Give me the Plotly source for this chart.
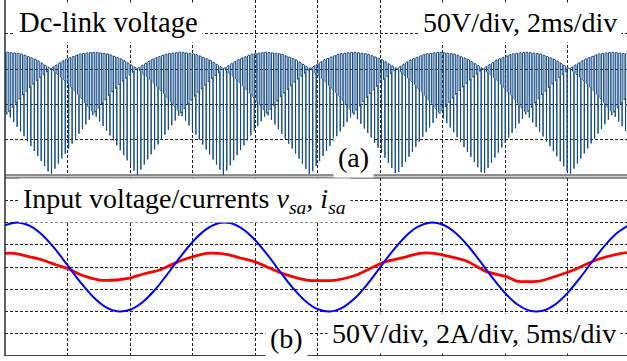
import numpy as np
import plotly.graph_objects as go

# ---------------- Top panel: DC-link voltage (V), 2 ms/div, 50 V/div ----------------
# Envelope samples, one every 10 electrical degrees,
# starting at a commutation cusp.
env_t_start = -1.308   # ms
env_t_step = 0.4613    # ms
vdc_upper = [150.7, 163.5, 171.4, 174.0, 171.4, 163.5,
             150.7, 163.5, 171.4, 174.0, 171.4, 163.5,
             150.7, 163.5, 171.4, 174.0, 171.4, 163.5,
             150.7, 163.5, 171.4, 174.0, 171.4, 163.5,
             150.7, 163.5, 171.4, 174.0, 171.4, 163.5,
             150.7, 163.5, 171.4, 174.0, 171.4, 163.5,
             150.7, 163.5, 171.4, 174.0, 171.4, 163.5,
             150.7, 163.5, 171.4, 174.0, 171.4, 163.5,
             150.7]
vdc_middle = [150.7, 133.3, 111.9, 87.0, 111.9, 133.3,
              150.7, 133.3, 111.9, 87.0, 111.9, 133.3,
              150.7, 133.3, 111.9, 87.0, 111.9, 133.3,
              150.7, 133.3, 111.9, 87.0, 111.9, 133.3,
              150.7, 133.3, 111.9, 87.0, 111.9, 133.3,
              150.7, 133.3, 111.9, 87.0, 111.9, 133.3,
              150.7, 133.3, 111.9, 87.0, 111.9, 133.3,
              150.7, 133.3, 111.9, 87.0, 111.9, 133.3,
              150.7]
vdc_lower = [0.0, 30.2, 59.5, 87.0, 59.5, 30.2,
             0.0, 30.2, 59.5, 87.0, 59.5, 30.2,
             0.0, 30.2, 59.5, 87.0, 59.5, 30.2,
             0.0, 30.2, 59.5, 87.0, 59.5, 30.2,
             0.0, 30.2, 59.5, 87.0, 59.5, 30.2,
             0.0, 30.2, 59.5, 87.0, 59.5, 30.2,
             0.0, 30.2, 59.5, 87.0, 59.5, 30.2,
             0.0, 30.2, 59.5, 87.0, 59.5, 30.2,
             0.0]
sw_period = 0.11  # ms, switching period of the chopped dc-link voltage

# ---------------- Bottom panel: vsa (V) and isa (A), 5 ms/div ----------------
vs_t = list(range(0, 51))  # ms
vs_sa = [93.6, 100.0, 92.3, 71.5, 40.6, 4.0, -33.1, -65.6, -88.8, -99.5,
         -96.1, -79.2, -51.1, -15.7, 21.8, 56.3, 82.9, 97.7, 98.7, 85.8,
         60.8, 27.2, -10.3, -46.3, -75.7, -94.5, -99.9, -91.2, -69.7, -38.2,
         -1.4, 35.6, 67.6, 90.0, 99.7, 95.4, 77.6, 48.8, 13.1, -24.4,
         -58.5, -84.3, -98.2, -98.2, -84.4, -58.6, -24.6, 12.9, 48.6, 77.4,
         95.3]
is_t = [0.0, 0.76, 1.96, 3.0, 4.12, 5.0, 5.96, 6.76, 7.56, 8.92, 9.96, 11.0,
        12.36, 13.56, 14.76, 16.12, 17.72, 18.76, 20.12, 20.92, 21.96, 23.0,
        24.12, 25.0, 26.52, 28.12, 30.28, 32.12, 33.16, 34.28, 35.32, 36.92,
        38.52, 40.12, 40.92, 42.76, 44.36, 45.48, 47.08, 48.12, 49.32, 49.8]
is_sa = [1.23, 1.23, 0.92, 0.63, 0.18, -0.12, -0.65, -0.96, -1.17, -1.17, -1.01, -0.65,
         -0.27, 0.33, 0.83, 1.23, 1.14, 0.83, 0.42, 0.03, -0.48, -0.87,
         -1.17, -1.23, -1.17, -0.72, 0.42, 0.92, 1.23, 1.23, 1.01, 0.54,
         -0.42, -0.87, -1.26, -1.26, -0.72, -0.27, 0.54, 0.92, 1.23, 1.3]

# ---------------- Build chopped waveform from envelopes ----------------
env_t = env_t_start + env_t_step * np.arange(len(vdc_upper))
T_TOP = 19.904
T_BOT = 49.76


def L(t):
    return float(np.interp(t, env_t, vdc_upper))


def M(t):
    return float(np.interp(t, env_t, vdc_middle))


def S(t):
    return float(np.interp(t, env_t, vdc_lower))


xs, ys = [], []
T = sw_period
for ts in np.arange(0.0, T_TOP + T, T):
    a, b, c = ts + 0.1 * T, ts + 0.5 * T, ts + 0.55 * T
    xs += [ts, a, a, b, b, c, c]
    ys += [L(ts), L(a), M(a), M(b), S(b), S(c), L(c)]

BLUE_DC = '#134a86'
fig = go.Figure()
fig.add_trace(go.Scatter(x=xs, y=ys, mode='lines', xaxis='x', yaxis='y',
                         line=dict(color=BLUE_DC, width=1), hoverinfo='skip'))
fig.add_trace(go.Scatter(x=is_t, y=is_sa, mode='lines', xaxis='x2', yaxis='y2',
                         line=dict(color='#ff0000', width=2.8, shape='spline', smoothing=0.8),
                         hoverinfo='skip'))
fig.add_trace(go.Scatter(x=vs_t, y=vs_sa, mode='lines', xaxis='x2', yaxis='y3',
                         line=dict(color='#0000ff', width=2, shape='spline', smoothing=1.0),
                         hoverinfo='skip'))

grid = dict(showgrid=True, gridcolor='#222222', gridwidth=1, griddash='3px,2px',
            zeroline=False, showticklabels=False, ticks='', showline=False)

H_PLOT = 356.0
W_PLOT = 622.0


def px(xpix):
    return (xpix - 5.0) / W_PLOT


def py(ypix):
    return (H_PLOT - ypix) / H_PLOT


SERIF = 'Liberation Serif'

fig.update_layout(
    width=627, height=361,
    margin=dict(l=5, r=0, t=0, b=5, pad=0),
    font=dict(family=SERIF, size=28, color='black'),
    paper_bgcolor='white', plot_bgcolor='white', showlegend=False,
    xaxis=dict(domain=[0, 1], range=[0, T_TOP], dtick=2, tick0=0, anchor='y', **grid),
    yaxis=dict(domain=[py(175), 1], range=[0, 247.9], dtick=50, tick0=0, anchor='x', **grid),
    xaxis2=dict(domain=[0, 1], range=[0, T_BOT], dtick=5, tick0=0, anchor='y2', **grid),
    yaxis2=dict(domain=[0, py(178)], range=[-8, 8], dtick=2, tick0=0, anchor='x2', **grid),
    yaxis3=dict(overlaying='y2', range=[-200, 200], anchor='x2', visible=False,
                showgrid=False, zeroline=False),
)

DARK = '#2a2a2a'
shapes = [
    dict(type='rect', xref='paper', yref='paper', x0=0, x1=1.01, y0=py(177.6), y1=py(175.4),
         fillcolor='#cccccc', line=dict(width=0), layer='above'),
    dict(type='line', xref='paper', yref='paper', x0=0, x1=1.01, y0=py(175), y1=py(175),
         line=dict(color=DARK, width=1.2), layer='above'),
    dict(type='line', xref='paper', yref='paper', x0=0, x1=1.01, y0=py(178), y1=py(178),
         line=dict(color=DARK, width=1.2), layer='above'),
    dict(type='line', xref='paper', yref='paper', x0=0, x1=1.01, y0=py(355.5), y1=py(355.5),
         line=dict(color='#444444', width=1.2), layer='above'),
    dict(type='line', xref='paper', yref='paper', x0=0, x1=0, y0=0, y1=1,
         line=dict(color=DARK, width=1.5), layer='above'),
]
fig.update_layout(shapes=shapes)


def note(text, xc, yc, size=28):
    fig.add_annotation(text=text, xref='paper', yref='paper', x=px(xc), y=py(yc),
                       xanchor='center', yanchor='middle', showarrow=False,
                       font=dict(family=SERIF, size=size, color='black'),
                       bgcolor='white', borderpad=4)


note('50V/div, 2ms/div', 520.0, 22.6)
note('(a)', 354.0, 157.3)
note('Input voltage/currents <i>v</i><sub><i>sa</i></sub>, <i>i</i><sub><i>sa</i></sub>',
     184.0, 200.6)
note('(b)', 286.0, 338.9)
note('50V/div, 2A/div, 5ms/div', 474.5, 333.9)
note('Dc-link voltage', 108.0, 22.0, size=28.6)

fig.write_html('out.html', config={'displayModeBar': False},
               post_script="document.body.style.margin='0';document.body.style.padding='0';")
